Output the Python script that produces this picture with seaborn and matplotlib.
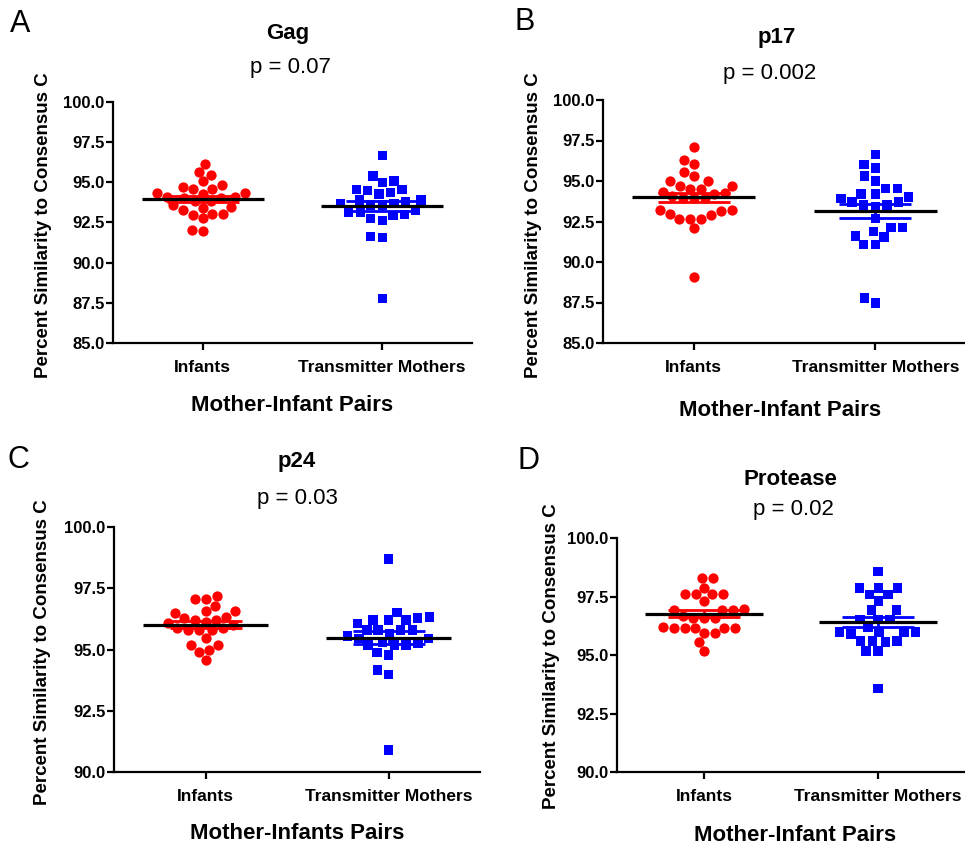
import numpy as np
import pandas as pd
import matplotlib
matplotlib.use("Agg")
import matplotlib.pyplot as plt
import seaborn as sns

sns.set_theme(style="ticks")
plt.rcParams['font.family'] = ['Liberation Sans', 'DejaVu Sans']
plt.rcParams['text.color'] = 'black'
plt.rcParams['axes.labelcolor'] = 'black'
plt.rcParams['xtick.color'] = 'black'
plt.rcParams['ytick.color'] = 'black'

categories = ["Infants", "Transmitter Mothers"]

gag_infants = [96.15, 95.65, 95.44, 95.06, 94.73, 94.85, 94.56, 94.56, 94.35, 94.35,
               94.27, 94.06, 94.06, 93.85, 93.85, 93.47, 93.56, 93.43, 93.26, 93.05,
               92.97, 93.05, 92.76, 91.97, 92.05, 94.0, 94.0]
gag_mothers = [96.67, 95.40, 94.98, 95.08, 94.56, 94.56, 94.35, 94.48, 94.27, 93.89,
               93.79, 93.89, 93.68, 93.68, 93.26, 93.16, 93.12, 92.95, 92.76, 93.01,
               92.64, 91.63, 91.55, 87.76, 93.6, 93.6]

p17_infants = [97.11, 96.31, 96.02, 95.53, 95.30, 95.01, 95.01, 94.70, 94.70, 94.52,
               94.52, 94.19, 94.06, 94.23, 94.33, 93.92, 93.92, 93.92, 93.20, 92.99,
               93.20, 93.15, 92.89, 92.68, 92.68, 92.68, 92.08, 89.07]
p17_mothers = [96.64, 95.81, 96.02, 95.30, 95.01, 94.54, 94.52, 94.02, 94.19, 94.19,
               93.92, 93.69, 93.69, 93.51, 93.51, 93.40, 92.68, 91.61, 92.12, 92.12,
               91.55, 91.88, 91.09, 91.09, 87.46, 87.77]

p24_infants = [97.19, 97.08, 97.08, 96.78, 96.59, 96.48, 96.59, 96.28, 96.32, 96.21,
               96.21, 96.11, 96.07, 96.00, 95.87, 95.80, 95.80, 95.80, 95.87, 95.48,
               95.18, 95.18, 94.98, 94.88, 94.56]
p24_mothers = [98.69, 96.51, 96.28, 96.32, 96.07, 96.21, 96.21, 96.21, 95.80, 95.55,
               95.80, 95.80, 95.80, 95.66, 95.18, 95.18, 95.25, 95.18, 95.28, 95.46,
               95.46, 94.78, 94.87, 94.16, 93.97, 90.89]

pr_infants = [98.30, 98.30, 97.87, 97.59, 97.59, 97.59, 97.59, 97.30, 96.92, 96.92,
              96.95, 96.92, 96.60, 96.67, 96.60, 96.60, 96.17, 96.17, 96.21, 96.17,
              96.17, 96.17, 95.93, 95.93, 95.56, 95.18]
pr_mothers = [98.58, 97.87, 97.87, 97.87, 97.59, 97.59, 97.30, 96.92, 96.92, 96.52,
              96.52, 96.52, 96.17, 95.99, 95.99, 95.89, 95.99, 95.99, 95.60, 95.56,
              95.60, 95.60, 95.18, 95.18, 93.57]

titles = ["Gag", "p17", "p24", "Protease"]
pvalues = ["p = 0.07", "p = 0.002", "p = 0.03", "p = 0.02"]
panel_letters = ["A", "B", "C", "D"]
xlabels = ["Mother-Infant Pairs", "Mother-Infant Pairs", "Mother-Infants Pairs", "Mother-Infant Pairs"]
ylabel = "Percent Similarity to Consensus C"
ylims = [(85, 100), (85, 100), (90, 100), (90, 100)]

data = [(gag_infants, gag_mothers), (p17_infants, p17_mothers),
        (p24_infants, p24_mothers), (pr_infants, pr_mothers)]

W, H = 965, 846
fig = plt.figure(figsize=(W / 100, H / 100), dpi=100)

# axes boxes in pixels: left, right, top, bottom
boxes = [(113, 472, 102, 343), (603, 966, 100, 343), (114, 480, 527, 772), (617, 965, 538, 772)]
title_pos = [(288, 33), (777, 38), (297, 461), (790, 479)]
pval_pos = [(290, 68), (770, 74), (297, 498), (793, 509)]
letter_pos = [(20, 24), (525, 22), (18, 460), (528, 461)]
xlabel_pos = [(292, 405), (780, 410), (297, 833), (795, 835)]
ylabel_pos = [(44, 225), (534, 225), (43, 652), (551, 656)]

red = "#ff0000"
blue = "#0000ff"

for i, (inf, mot) in enumerate(data):
    l, r, t, b = boxes[i]
    ax = fig.add_axes([l / W, (H - b) / H, (r - l) / W, (b - t) / H])
    df_i = pd.DataFrame({"group": categories[0], "value": inf})
    df_m = pd.DataFrame({"group": categories[1], "value": mot})
    sns.swarmplot(data=df_i, x="group", y="value", order=categories, color=red,
                  marker="o", size=7.4, linewidth=0, ax=ax, zorder=3)
    coll = ax.collections[-1]
    coll.set_edgecolor("none")
    coll.set_linewidth(3.6)
    sns.swarmplot(data=df_m, x="group", y="value", order=categories, color=blue,
                  marker="s", size=6.8, linewidth=0, ax=ax, zorder=3)
    coll = ax.collections[-1]
    coll.set_edgecolor("none")
    coll.set_linewidth(1.3)
    for k, (vals, col) in enumerate([(inf, red), (mot, blue)]):
        m = np.mean(vals)
        se = np.std(vals, ddof=1) / np.sqrt(len(vals))
        ax.errorbar([k], [m], yerr=[se], color=col, capsize=26, capthick=2,
                    elinewidth=2, zorder=2)
        ax.hlines(m, k - 0.34, k + 0.34, color="black", linewidth=2.3, zorder=4)
    ax.set_xlim(-0.5, 1.5)
    ax.set_ylim(*ylims[i])
    ticks = np.arange(ylims[i][0], ylims[i][1] + 0.01, 2.5)
    ax.set_yticks(ticks)
    ax.set_yticklabels([f"{v:.1f}" for v in ticks])
    ax.set_xlabel("")
    ax.set_ylabel("")
    sns.despine(ax=ax)
    for s in ["left", "bottom"]:
        ax.spines[s].set_linewidth(1.6)
        ax.spines[s].set_color("black")
    ax.tick_params(axis="both", direction="out", length=5, width=1.6, color="black", pad=1)
    ax.tick_params(axis="y", labelsize=12)
    ax.tick_params(axis="x", labelsize=12.5, pad=7)
    for lab in ax.get_xticklabels() + ax.get_yticklabels():
        lab.set_fontweight("bold")

    fig.text(title_pos[i][0] / W, 1 - title_pos[i][1] / H, titles[i], ha="center", va="center",
             fontsize=16, fontweight="bold")
    fig.text(pval_pos[i][0] / W, 1 - pval_pos[i][1] / H, pvalues[i], ha="center", va="center",
             fontsize=16)
    fig.text(letter_pos[i][0] / W, 1 - letter_pos[i][1] / H, panel_letters[i], ha="center",
             va="center", fontsize=22)
    fig.text(xlabel_pos[i][0] / W, 1 - xlabel_pos[i][1] / H, xlabels[i], ha="center",
             va="center", fontsize=16, fontweight="bold")
    fig.text(ylabel_pos[i][0] / W, 1 - ylabel_pos[i][1] / H, ylabel, ha="center", va="center",
             rotation=90, fontsize=13.5, fontweight="bold")

fig.savefig("out.png", dpi=100)
